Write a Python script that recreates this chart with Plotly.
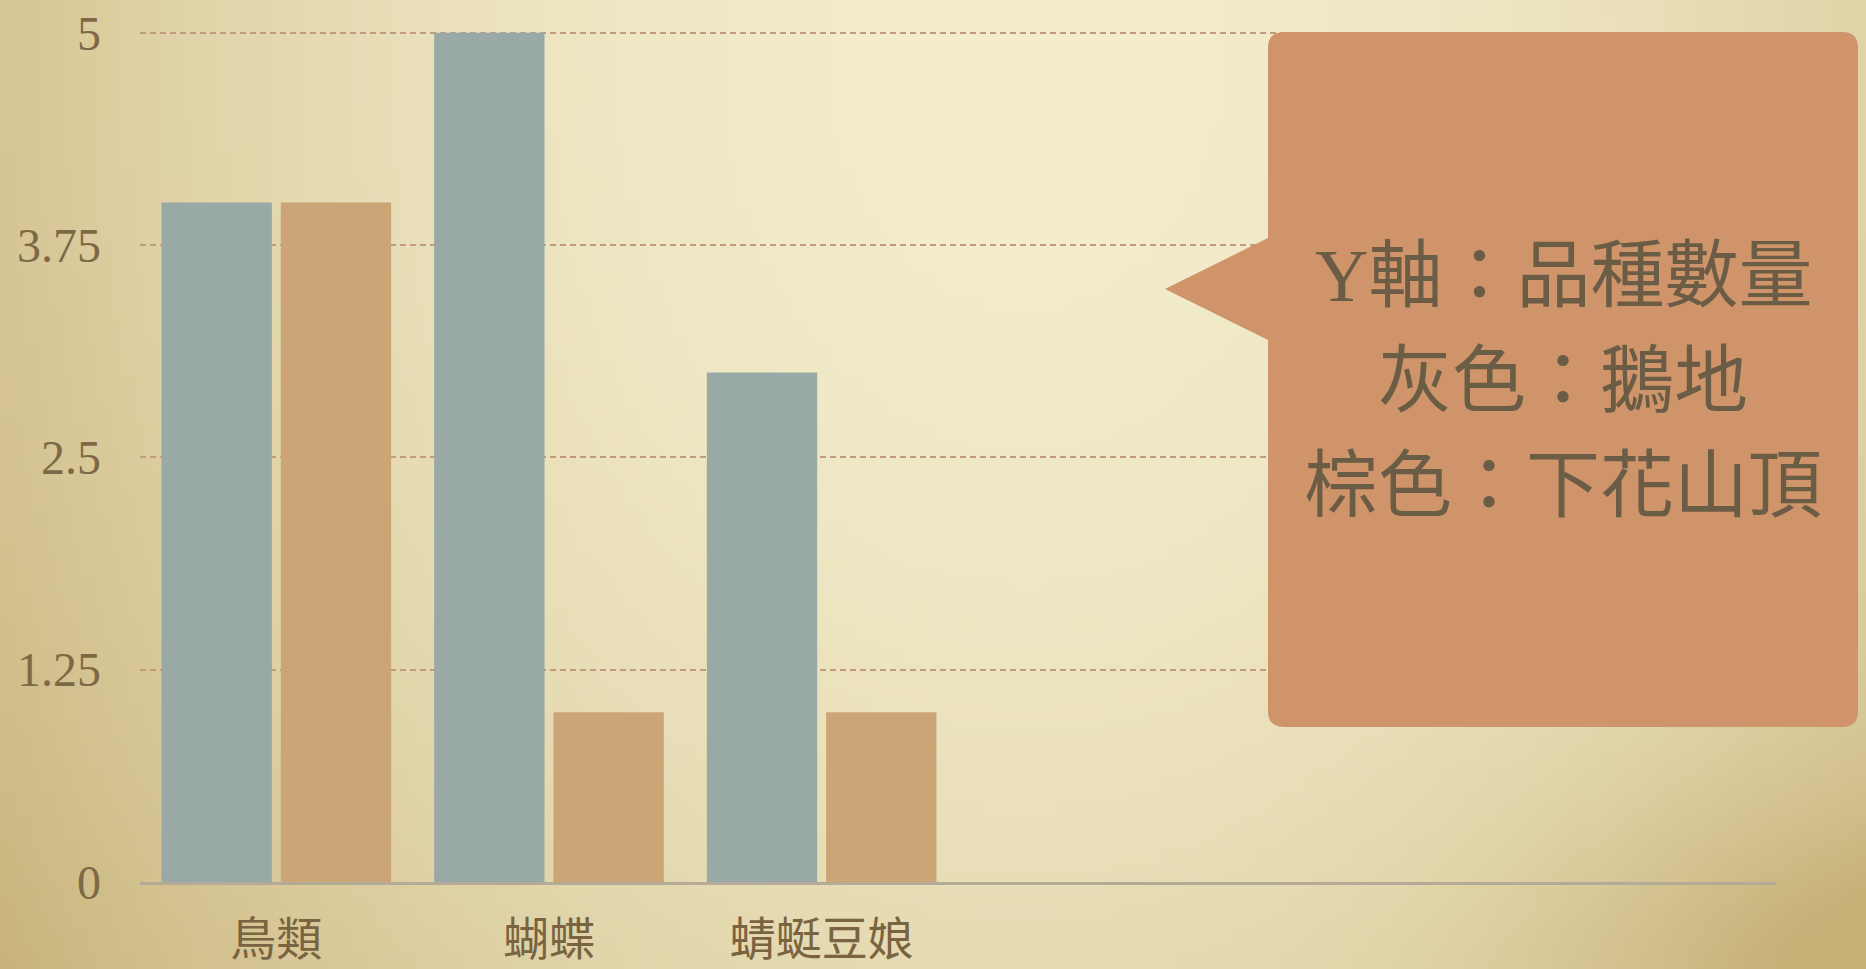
import base64, struct, zlib
import numpy as np
import plotly.graph_objects as go

# ---------------- data ----------------
categories = ["鳥類", "蝴蝶", "蜻蜓豆娘"]
n_slots = 6                      # axis has room for six categories
goose_land = [4, 5, 3]           # 灰色：鵝地
xiahua_top = [4, 1, 1]           # 棕色：下花山頂
y_ticks = [0, 1.25, 2.5, 3.75, 5]
y_tick_text = ["0", "1.25", "2.5", "3.75", "5"]
callout_lines = ["<span style=\"font-family:'Liberation Serif'\">Y</span>軸：品種數量",
                 "灰色：鵝地",
                 "棕色：下花山頂"]

# ---------------- geometry ----------------
W, H = 1866, 969
Y_TOP = 5.01
L, R, B = 140, 90, 87
T = 33 - round((Y_TOP - 5) * (H - 33 - B) / 5)
PW, PH = W - L - R, H - T - B
Y0 = H - B


def px(x):
    return (x - L) / PW


def py(y):
    return (Y0 - y) / PH


# ---------------- parchment background ----------------
def png_bytes(arr):
    h, w, _ = arr.shape
    raw = b"".join(b"\x00" + arr[r].tobytes() for r in range(h))

    def chunk(tag, data):
        return (struct.pack(">I", len(data)) + tag + data
                + struct.pack(">I", zlib.crc32(tag + data) & 0xFFFFFFFF))

    return (b"\x89PNG\r\n\x1a\n"
            + chunk(b"IHDR", struct.pack(">IIBBBBB", w, h, 8, 2, 0, 0, 0))
            + chunk(b"IDAT", zlib.compress(raw, 9))
            + chunk(b"IEND", b""))


iw, ih = 160, 84
U, V = np.meshgrid(np.linspace(0, 1, iw), np.linspace(0, 1, ih))
d2 = ((U - 0.55) / 0.6) ** 2 + ((V - 0.05) / 1.5) ** 2
t = 0.75 * d2 + 0.35 * np.exp(-((1 - U) ** 2 + (1 - V) ** 2) / 0.03)
t = np.clip(t, 0, 1)[..., None]
c1 = np.array([243, 237, 204], float)
c2 = np.array([198, 176, 118], float)
img = (c1 + (c2 - c1) * t).round().astype(np.uint8)
bg_src = "data:image/png;base64," + base64.b64encode(png_bytes(img)).decode()

# ---------------- figure ----------------
fig = go.Figure()
xs = list(range(len(categories)))
fig.add_trace(go.Bar(x=xs, y=goose_land, name="鵝地",
                     marker=dict(color="#98a9a6", line=dict(width=0))))
fig.add_trace(go.Bar(x=xs, y=xiahua_top, name="下花山頂",
                     marker=dict(color="#cca577", line=dict(width=0))))

# callout bubble
x0, x1, y0, y1, r = 1268, 1858, 32, 727, 16
tipx, tipy, b1, b2 = 1165, 289, 238, 340
pts = [
    ("M", (x0 + r, y0)), ("L", (x1 - r, y0)), ("Q", (x1, y0), (x1, y0 + r)),
    ("L", (x1, y1 - r)), ("Q", (x1, y1), (x1 - r, y1)), ("L", (x0 + r, y1)),
    ("Q", (x0, y1), (x0, y1 - r)), ("L", (x0, b2)), ("L", (tipx, tipy)),
    ("L", (x0, b1)), ("L", (x0, y0 + r)), ("Q", (x0, y0), (x0 + r, y0)),
]
path = ""
for p in pts:
    cmd, coords = p[0], p[1:]
    path += cmd + " ".join(f"{px(a):.5f},{py(b):.5f}" for a, b in coords) + " "
path += "Z"

fig.add_shape(type="path", path=path, xref="paper", yref="paper",
              fillcolor="#cf9469", line=dict(width=0), layer="above")

line_y = [268, 374, 478]
for txt, yy in zip(callout_lines, line_y):
    fig.add_annotation(text=txt, x=px(1563), y=py(yy), xref="paper", yref="paper",
                       xanchor="center", yanchor="middle", showarrow=False,
                       font=dict(family="Noto Sans CJK TC", size=74, color="#6a5c45"))

fig.add_layout_image(source=bg_src, xref="paper", yref="paper",
                     x=-L / PW, y=1 + T / PH, sizex=W / PW, sizey=H / PH,
                     xanchor="left", yanchor="top", sizing="stretch", layer="below")

fig.update_layout(
    width=W, height=H,
    margin=dict(l=L, r=R, t=T, b=B, autoexpand=False),
    paper_bgcolor="#e8dcae", plot_bgcolor="rgba(0,0,0,0)",
    barmode="group", bargap=0.125, bargroupgap=0.075,
    showlegend=False,
    xaxis=dict(range=[-0.5, n_slots - 0.5], tickmode="array", tickvals=xs,
               ticktext=categories, showgrid=False, zeroline=False,
               showline=True, linecolor="#b4aa98", linewidth=2.5, ticks="",
               ticklabelstandoff=15, automargin=False,
               tickfont=dict(family="Noto Sans CJK TC", size=46, color="#7a6340"),
               fixedrange=True),
    yaxis=dict(range=[0, Y_TOP], tickmode="array", tickvals=y_ticks, ticktext=y_tick_text,
               showgrid=True, gridcolor="#c39a80", gridwidth=2, griddash="6px,4px",
               zeroline=False, showline=False, ticks="", ticklabelstandoff=38,
               automargin=False,
               tickfont=dict(family="Liberation Serif", size=48, color="#7d6946"),
               fixedrange=True),
)

fig.write_html("out.html", config={"displayModeBar": False},
               post_script="document.body.style.margin='0';"
                           "document.body.style.overflow='hidden';"
                           "document.documentElement.style.overflow='hidden';")
